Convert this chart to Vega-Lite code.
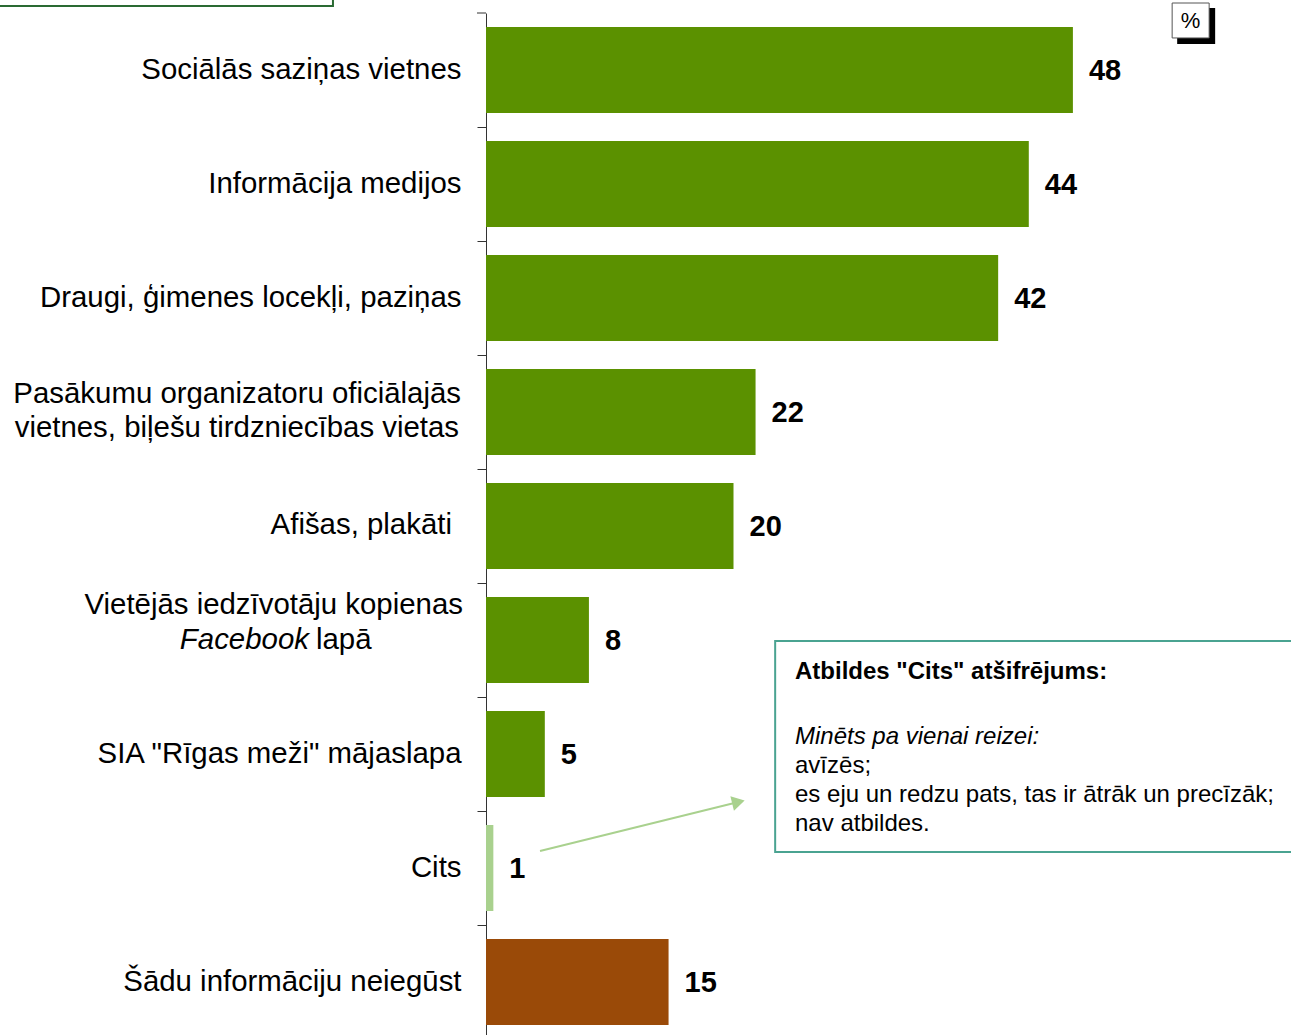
{
  "$schema": "https://vega.github.io/schema/vega-lite/v6.json",
  "width": 805,
  "height": 1022,
  "autosize": {"type": "none"},
  "padding": {"left": 486, "top": 13, "right": 0, "bottom": 0},
  "background": "white",
  "config": {"view": {"stroke": null}, "font": "Liberation Sans"},
  "datasets": {
    "bars": [
      {"label": "Sociālās saziņas vietnes", "value": 47.9, "group": "main"},
      {"label": "Informācija medijos", "value": 44.3, "group": "main"},
      {"label": "Draugi, ģimenes locekļi, paziņas", "value": 41.8, "group": "main"},
      {"label": "Pasākumu organizatoru oficiālajās vietnes, biļešu tirdzniecības vietas", "value": 22.0, "group": "main"},
      {"label": "Afišas, plakāti ", "value": 20.2, "group": "main"},
      {"label": "Vietējās iedzīvotāju kopienas Facebook lapā", "value": 8.4, "group": "main"},
      {"label": "SIA \"Rīgas meži\" mājaslapa", "value": 4.8, "group": "main"},
      {"label": "Cits", "value": 0.6, "group": "cits"},
      {"label": "Šādu informāciju neiegūst", "value": 14.9, "group": "none"}
    ],
    "notebox": [{"x": 23.6, "x2": 67, "y": 5.509, "y2": 7.36}],
    "cornerbox": [{"x": -40, "x2": -12.49, "y": -0.2, "y2": -0.0614}],
    "pctshadow": [{"x": 56.41, "x2": 59.51, "y": -0.0439, "y2": 0.272}],
    "pctbox": [{"x": 56.0, "x2": 59.02, "y": -0.0877, "y2": 0.219}],
    "pcttext": [{"x": 57.5, "y": 0.0702, "t": "%"}],
    "toptick": [{"x": -0.735, "x2": 0, "y": 0}],
    "notetitle": [{"x": 25.22, "y": 5.781, "t": "Atbildes \"Cits\" atšifrējums:"}],
    "noteitalic": [{"x": 25.22, "y": 6.351, "t": "Minēts pa vienai reizei:"}],
    "notelines": [
      {"x": 25.22, "y": 6.605, "t": "avīzēs;"},
      {"x": 25.22, "y": 6.86, "t": "es eju un redzu pats, tas ir ātrāk un precīzāk;"},
      {"x": 25.22, "y": 7.114, "t": "nav atbildes."}
    ],
    "catlines": [
      {"x": -2.04, "y": 3.342, "t": "Pasākumu organizatoru oficiālajās"},
      {"x": -2.2, "y": 3.64, "t": "vietnes, biļešu tirdzniecības vietas"},
      {"x": -2.78, "y": 4.49, "t": "Afišas, plakāti"},
      {"x": -1.88, "y": 5.193, "t": "Vietējās iedzīvotāju kopienas"},
      {"x": -13.88, "y": 5.5, "t": "lapā", "a": "left"}
    ],
    "catitalic": [{"x": -14.45, "y": 5.5, "t": "Facebook"}],
    "arrow": [{"x": 4.41, "y": 7.351, "x2": 20.6, "y2": 6.921}],
    "arrowhead": [{"x": 20.6, "y": 6.921}]
  },
  "layer": [
    {
      "layer": [
        {
          "data": {"name": "bars"},
          "mark": {"type": "bar"},
          "encoding": {
            "y": {
              "field": "label",
              "type": "nominal",
              "sort": null,
              "scale": {"paddingInner": 0.2456, "paddingOuter": 0.1053, "align": 0.583},
              "axis": {
                "title": null,
                "labelExpr": "indexof(datum.label, 'Pasākumu') == 0 || indexof(datum.label, 'Vietējās') == 0 || indexof(datum.label, 'Afišas') == 0 ? '' : datum.label",
                "labelFont": "Liberation Sans",
                "labelFontSize": 29.4,
                "labelColor": "#000000",
                "labelLimit": 480,
                "labelPadding": 16,
                "labelOffset": -57,
                "tickOffset": 57,
                "tickSize": 9,
                "tickColor": "#333333",
                "domainColor": "#333333",
                "domainWidth": 1,
                "tickWidth": 1,
                "grid": false
              }
            },
            "x": {"field": "value", "type": "quantitative", "scale": {"domain": [0, 65.7]}, "axis": null},
            "color": {
              "field": "group",
              "type": "nominal",
              "scale": {"domain": ["main", "cits", "none"], "range": ["#5b9100", "#a9d18e", "#9a4a08"]},
              "legend": null
            }
          }
        },
        {
          "data": {"name": "bars"},
          "mark": {"type": "text", "align": "left", "baseline": "middle", "dx": 16, "dy": 1, "fontSize": 29, "fontWeight": "bold", "color": "#000000"},
          "encoding": {
            "y": {"field": "label", "type": "nominal", "sort": null},
            "x": {"field": "value", "type": "quantitative", "scale": {"domain": [0, 65.7]}, "axis": null},
            "text": {"field": "value", "type": "quantitative", "format": ".0f"}
          }
        }
      ]
    },
    {
      "layer": [
        {
          "data": {"name": "notebox"},
          "mark": {"type": "rect", "fill": "white", "stroke": "#4aa391", "strokeWidth": 2, "clip": true},
          "encoding": {
            "x": {"field": "x", "type": "quantitative", "scale": {"domain": [0, 65.7]}, "axis": null},
            "x2": {"field": "x2"},
            "y": {"field": "y", "type": "quantitative", "scale": {"domain": [0, 8.965], "reverse": true}, "axis": null},
            "y2": {"field": "y2"}
          }
        },
        {
          "data": {"name": "cornerbox"},
          "mark": {"type": "rect", "fill": "white", "stroke": "#2a6a33", "strokeWidth": 2},
          "encoding": {
            "x": {"field": "x", "type": "quantitative", "scale": {"domain": [0, 65.7]}, "axis": null},
            "x2": {"field": "x2"},
            "y": {"field": "y", "type": "quantitative", "scale": {"domain": [0, 8.965], "reverse": true}, "axis": null},
            "y2": {"field": "y2"}
          }
        },
        {
          "data": {"name": "toptick"},
          "mark": {"type": "rule", "color": "#333333", "strokeWidth": 1},
          "encoding": {
            "x": {"field": "x", "type": "quantitative", "scale": {"domain": [0, 65.7]}, "axis": null},
            "x2": {"field": "x2"},
            "y": {"field": "y", "type": "quantitative", "scale": {"domain": [0, 8.965], "reverse": true}, "axis": null}
          }
        },
        {
          "data": {"name": "pctshadow"},
          "mark": {"type": "rect", "fill": "#000000"},
          "encoding": {
            "x": {"field": "x", "type": "quantitative", "scale": {"domain": [0, 65.7]}, "axis": null},
            "x2": {"field": "x2"},
            "y": {"field": "y", "type": "quantitative", "scale": {"domain": [0, 8.965], "reverse": true}, "axis": null},
            "y2": {"field": "y2"}
          }
        },
        {
          "data": {"name": "pctbox"},
          "mark": {"type": "rect", "fill": "white", "stroke": "#555555", "strokeWidth": 1},
          "encoding": {
            "x": {"field": "x", "type": "quantitative", "scale": {"domain": [0, 65.7]}, "axis": null},
            "x2": {"field": "x2"},
            "y": {"field": "y", "type": "quantitative", "scale": {"domain": [0, 8.965], "reverse": true}, "axis": null},
            "y2": {"field": "y2"}
          }
        },
        {
          "data": {"name": "pcttext"},
          "mark": {"type": "text", "align": "center", "baseline": "middle", "fontSize": 22, "color": "#000000"},
          "encoding": {
            "x": {"field": "x", "type": "quantitative", "scale": {"domain": [0, 65.7]}, "axis": null},
            "y": {"field": "y", "type": "quantitative", "scale": {"domain": [0, 8.965], "reverse": true}, "axis": null},
            "text": {"field": "t"}
          }
        },
        {
          "data": {"name": "notetitle"},
          "mark": {"type": "text", "align": "left", "baseline": "middle", "fontSize": 24, "fontWeight": "bold", "color": "#000000"},
          "encoding": {
            "x": {"field": "x", "type": "quantitative", "scale": {"domain": [0, 65.7]}, "axis": null},
            "y": {"field": "y", "type": "quantitative", "scale": {"domain": [0, 8.965], "reverse": true}, "axis": null},
            "text": {"field": "t"}
          }
        },
        {
          "data": {"name": "noteitalic"},
          "mark": {"type": "text", "align": "left", "baseline": "middle", "fontSize": 24, "fontStyle": "italic", "color": "#000000"},
          "encoding": {
            "x": {"field": "x", "type": "quantitative", "scale": {"domain": [0, 65.7]}, "axis": null},
            "y": {"field": "y", "type": "quantitative", "scale": {"domain": [0, 8.965], "reverse": true}, "axis": null},
            "text": {"field": "t"}
          }
        },
        {
          "data": {"name": "notelines"},
          "mark": {"type": "text", "align": "left", "baseline": "middle", "fontSize": 24, "color": "#000000"},
          "encoding": {
            "x": {"field": "x", "type": "quantitative", "scale": {"domain": [0, 65.7]}, "axis": null},
            "y": {"field": "y", "type": "quantitative", "scale": {"domain": [0, 8.965], "reverse": true}, "axis": null},
            "text": {"field": "t"}
          }
        },
        {
          "data": {"name": "catlines"},
          "transform": [{"filter": "datum.a == 'left'"}],
          "mark": {"type": "text", "align": "left", "baseline": "middle", "fontSize": 29.4, "color": "#000000"},
          "encoding": {
            "x": {"field": "x", "type": "quantitative", "scale": {"domain": [0, 65.7]}, "axis": null},
            "y": {"field": "y", "type": "quantitative", "scale": {"domain": [0, 8.965], "reverse": true}, "axis": null},
            "text": {"field": "t"}
          }
        },
        {
          "data": {"name": "catlines"},
          "transform": [{"filter": "datum.a != 'left'"}],
          "mark": {"type": "text", "align": "right", "baseline": "middle", "fontSize": 29.4, "color": "#000000"},
          "encoding": {
            "x": {"field": "x", "type": "quantitative", "scale": {"domain": [0, 65.7]}, "axis": null},
            "y": {"field": "y", "type": "quantitative", "scale": {"domain": [0, 8.965], "reverse": true}, "axis": null},
            "text": {"field": "t"}
          }
        },
        {
          "data": {"name": "catitalic"},
          "mark": {"type": "text", "align": "right", "baseline": "middle", "fontSize": 29.4, "fontStyle": "italic", "color": "#000000"},
          "encoding": {
            "x": {"field": "x", "type": "quantitative", "scale": {"domain": [0, 65.7]}, "axis": null},
            "y": {"field": "y", "type": "quantitative", "scale": {"domain": [0, 8.965], "reverse": true}, "axis": null},
            "text": {"field": "t"}
          }
        },
        {
          "data": {"name": "arrow"},
          "mark": {"type": "rule", "color": "#a9d18e", "strokeWidth": 2},
          "encoding": {
            "x": {"field": "x", "type": "quantitative", "scale": {"domain": [0, 65.7]}, "axis": null},
            "x2": {"field": "x2"},
            "y": {"field": "y", "type": "quantitative", "scale": {"domain": [0, 8.965], "reverse": true}, "axis": null},
            "y2": {"field": "y2"}
          }
        },
        {
          "data": {"name": "arrowhead"},
          "mark": {"type": "point", "shape": "triangle-right", "filled": true, "color": "#a9d18e", "size": 220, "angle": 346, "opacity": 1},
          "encoding": {
            "x": {"field": "x", "type": "quantitative", "scale": {"domain": [0, 65.7]}, "axis": null},
            "y": {"field": "y", "type": "quantitative", "scale": {"domain": [0, 8.965], "reverse": true}, "axis": null}
          }
        }
      ]
    }
  ],
  "resolve": {"scale": {"y": "independent"}}
}
